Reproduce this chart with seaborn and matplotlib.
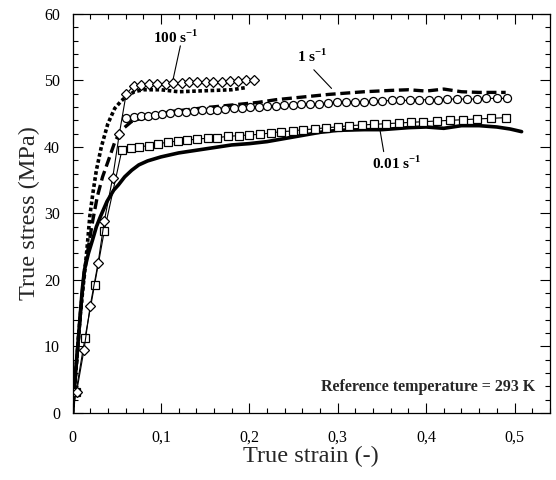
import matplotlib
matplotlib.use("Agg")
import matplotlib.pyplot as plt
import matplotlib.ticker as mticker
import seaborn as sns

# experimental curves (thick lines)
exp_001_strain = [0.0, 0.002, 0.005, 0.008, 0.011, 0.0135, 0.018, 0.0226, 0.027, 0.0315, 0.039,
                  0.0466, 0.052, 0.059, 0.067, 0.075, 0.085, 0.100, 0.120, 0.150, 0.180,
                  0.200, 0.220, 0.250, 0.280, 0.300, 0.330, 0.350, 0.380, 0.400, 0.420, 0.440,
                  0.460, 0.480, 0.495, 0.508]
exp_001_stress = [0.0, 3.5, 8.5, 13.5, 18.5, 21.5, 24.0, 26.0, 28.0, 29.5, 31.8,
                  33.5, 34.3, 35.5, 36.5, 37.3, 37.9, 38.5, 39.1, 39.7, 40.3,
                  40.5, 40.8, 41.5, 42.2, 42.5, 42.6, 42.6, 42.9, 43.0, 42.8, 43.2,
                  43.2, 43.0, 42.7, 42.3]

exp_1_strain = [0.0, 0.003, 0.006, 0.009, 0.0135, 0.018, 0.023, 0.028, 0.034, 0.042, 0.048,
                0.055, 0.0666, 0.075, 0.085, 0.100, 0.110, 0.150, 0.180, 0.210, 0.230, 0.260,
                0.290, 0.330, 0.360, 0.380, 0.400, 0.420, 0.440, 0.460, 0.490]
exp_1_stress = [0.0, 5.0, 10.0, 15.0, 21.5, 25.0, 29.0, 32.5, 35.5, 38.5, 40.8,
                42.5, 43.8, 44.2, 44.5, 44.9, 45.3, 45.9, 46.3, 46.7, 47.1, 47.5,
                47.9, 48.3, 48.5, 48.6, 48.4, 48.7, 48.3, 48.2, 48.2]

exp_100_strain = [0.0, 0.003, 0.006, 0.009, 0.012, 0.0145, 0.0176, 0.0195, 0.023, 0.027, 0.0326,
                  0.040, 0.0478, 0.055, 0.061, 0.070, 0.080, 0.100, 0.120, 0.140,
                  0.160, 0.180, 0.195]
exp_100_stress = [0.0, 5.0, 10.0, 15.0, 19.0, 22.0, 26.5, 29.5, 33.0, 36.5, 40.0,
                  43.5, 45.8, 46.9, 47.6, 48.3, 48.6, 48.6, 48.3, 48.4,
                  48.5, 48.6, 48.9]

# model predictions (open markers)
mod_001_strain = [0.004, 0.014, 0.025, 0.036, 0.056, 0.066, 0.075, 0.086, 0.097, 0.108, 0.119,
                  0.130, 0.141, 0.153, 0.164, 0.176, 0.188, 0.200, 0.212, 0.224, 0.236,
                  0.249, 0.261, 0.274, 0.287, 0.300, 0.313, 0.327, 0.341, 0.355, 0.369,
                  0.383, 0.397, 0.412, 0.427, 0.442, 0.457, 0.473, 0.490]
mod_001_stress = [3.2, 11.2, 19.3, 27.4, 39.6, 39.8, 40.0, 40.2, 40.5, 40.7, 40.9,
                  41.0, 41.2, 41.3, 41.4, 41.6, 41.7, 41.8, 41.9, 42.1, 42.3,
                  42.4, 42.6, 42.7, 42.9, 43.0, 43.2, 43.3, 43.4, 43.5, 43.6,
                  43.7, 43.8, 43.9, 44.0, 44.1, 44.2, 44.3, 44.4]

mod_1_strain = [0.060, 0.069, 0.077, 0.085, 0.093, 0.101, 0.110, 0.119, 0.128, 0.137, 0.146,
                0.155, 0.164, 0.173, 0.183, 0.192, 0.201, 0.211, 0.220, 0.230, 0.239,
                0.249, 0.259, 0.269, 0.279, 0.289, 0.299, 0.309, 0.319, 0.330, 0.340,
                0.350, 0.361, 0.371, 0.382, 0.392, 0.403, 0.413, 0.424, 0.435, 0.446,
                0.457, 0.468, 0.480, 0.492]
mod_1_stress = [44.3, 44.5, 44.6, 44.7, 44.8, 44.9, 45.1, 45.2, 45.3, 45.4, 45.5,
                45.6, 45.6, 45.7, 45.8, 45.9, 46.0, 46.0, 46.1, 46.2, 46.3,
                46.3, 46.4, 46.5, 46.5, 46.6, 46.7, 46.7, 46.8, 46.8, 46.9,
                46.9, 47.0, 47.0, 47.0, 47.1, 47.1, 47.1, 47.2, 47.2, 47.2,
                47.2, 47.3, 47.3, 47.3]

mod_100_strain = [0.0047, 0.013, 0.020, 0.029, 0.036, 0.0455, 0.053, 0.0606, 0.069, 0.078,
                  0.087, 0.096, 0.106, 0.114, 0.124, 0.132, 0.141, 0.151, 0.159, 0.169,
                  0.178, 0.187, 0.196, 0.205]
mod_100_stress = [3.2, 9.5, 16.1, 22.6, 28.9, 35.4, 42.0, 47.9, 49.2, 49.3,
                  49.4, 49.5, 49.5, 49.6, 49.6, 49.7, 49.7, 49.8, 49.8, 49.8,
                  49.9, 49.9, 50.0, 50.0]

sns.set_style("ticks")
plt.rcParams["font.family"] = ["Liberation Serif", "DejaVu Serif"]
plt.rcParams["mathtext.fontset"] = "custom"
plt.rcParams["mathtext.rm"] = "Liberation Serif"
plt.rcParams["mathtext.bf"] = "Liberation Serif:bold"

fig = plt.figure(figsize=(5.56, 4.8), dpi=100)
ax = fig.add_axes([0.1304, 0.1396, 0.8586, 0.8314])

line_kw = dict(color="black", estimator=None, sort=False, ax=ax, legend=False)
sns.lineplot(x=exp_001_strain, y=exp_001_stress, lw=2.6, **line_kw)
sns.lineplot(x=exp_1_strain, y=exp_1_stress, lw=2.4, **line_kw)
ax.lines[-1].set_linestyle((0, (3.0, 1.4)))
sns.lineplot(x=exp_100_strain, y=exp_100_stress, lw=2.6, **line_kw)
ax.lines[-1].set_linestyle((0, (1.0, 0.7)))

mk_kw = dict(color="black", lw=0.8, markerfacecolor="white", markeredgecolor="black",
             markeredgewidth=0.9, estimator=None, sort=False, ax=ax, legend=False)
sns.lineplot(x=mod_001_strain, y=mod_001_stress, marker="s", markersize=6.3, **mk_kw)
sns.lineplot(x=mod_1_strain, y=mod_1_stress, marker="o", markersize=5.8, **mk_kw)
sns.lineplot(x=mod_100_strain, y=mod_100_stress, marker="D", markersize=5.6, **mk_kw)

ax.set_xlim(0, 0.54)
ax.set_ylim(0, 60)
ax.xaxis.set_major_locator(mticker.MultipleLocator(0.1))
ax.xaxis.set_minor_locator(mticker.MultipleLocator(0.02))
ax.yaxis.set_major_locator(mticker.MultipleLocator(10))
ax.yaxis.set_minor_locator(mticker.MultipleLocator(2))
ax.xaxis.set_major_formatter(mticker.FuncFormatter(
    lambda v, _: "0" if abs(v) < 1e-9 else f"{v:.1f}".replace(".", ",")))
ax.tick_params(which="both", direction="in", top=True, right=True, width=0.8,
               labelsize=11.5, colors="black")
ax.tick_params(axis="x", which="major", length=7, pad=12)
ax.tick_params(axis="y", which="major", length=7, pad=9)
ax.tick_params(which="minor", length=3.5)
for sp in ax.spines.values():
    sp.set_linewidth(0.9)
    sp.set_color("black")

ax.set_xlabel("True strain (-)", fontsize=17.5, labelpad=0)
ax.set_ylabel("True stress (MPa)", fontsize=17.5, labelpad=3)

ann = dict(fontsize=11, fontweight="bold", color="black")
ax.text(0.091, 56.5, r"100 s$^{\mathbf{-1}}$", va="center", **ann)
ax.plot([0.122, 0.114], [55.2, 50.3], color="black", lw=0.8)
ax.text(0.254, 53.6, r"1 s$^{\mathbf{-1}}$", va="center", **ann)
ax.plot([0.273, 0.293], [51.6, 48.8], color="black", lw=0.8)
ax.text(0.339, 37.5, r"0.01 s$^{\mathbf{-1}}$", va="center", **ann)
ax.plot([0.348, 0.352], [42.4, 39.3], color="black", lw=0.8)
ax.text(0.524, 3.95, "Reference temperature = 293 K", ha="right", va="center",
        fontsize=11.5, fontweight="bold")

fig.savefig("out.png", dpi=100)
